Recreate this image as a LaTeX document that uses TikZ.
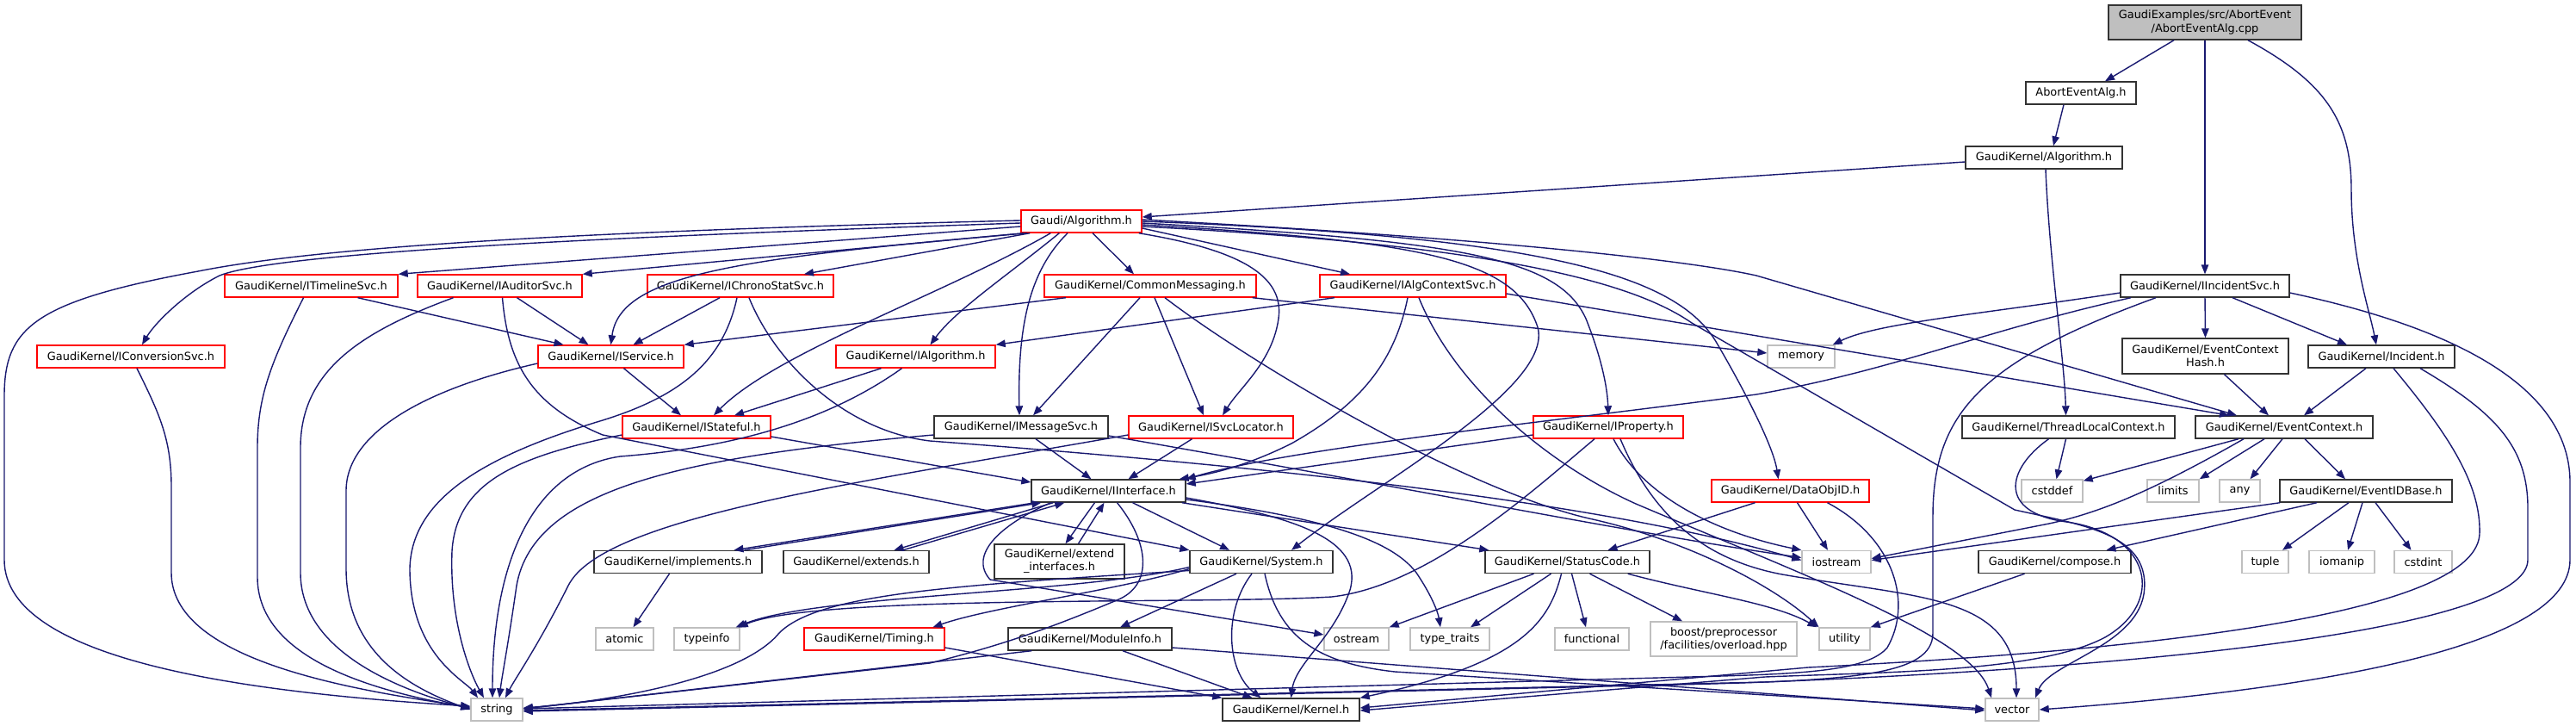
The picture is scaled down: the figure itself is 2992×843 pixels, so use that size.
\documentclass[tikz,border=0pt]{standalone}
\usepackage{fontspec}
\setmainfont{DejaVu Sans}
\usetikzlibrary{arrows.meta}
\definecolor{edgec}{HTML}{191970}
\definecolor{grey75}{HTML}{BFBFBF}
\definecolor{nodeblk}{HTML}{333333}
\begin{document}
\begin{tikzpicture}[x=1pt,y=-1pt,
  nb/.style={draw=nodeblk, line width=1.4pt, inner sep=0pt, minimum height=26pt, font=\fontsize{12.9}{15}\selectfont, align=center},
  nr/.style={nb, draw=red},
  ng/.style={nb, draw=grey75},
  e/.style={draw=edgec, line width=1.4pt, -{Triangle[length=11pt,width=8.5pt]}},
]
\useasboundingbox (0,0) rectangle (2992,843);
\fill[white] (0,0) rectangle (2992,843);
% ---------- nodes ----------
\node[nb, fill=grey75, minimum width=224pt, minimum height=40pt, font=\fontsize{12.9}{16}\selectfont] (cpp) at (2561,26) {GaudiExamples/src/AbortEvent\\/AbortEventAlg.cpp};
\node[nb, minimum width=128pt] (aeh) at (2417,108) {AbortEventAlg.h};
\node[nb, minimum width=182pt] (gkalg) at (2374,183) {GaudiKernel/Algorithm.h};
\node[nr, minimum width=140pt] (galg) at (1256,257) {Gaudi/Algorithm.h};
\node[nr, minimum width=201pt] (timeline) at (361.5,332) {GaudiKernel/ITimelineSvc.h};
\node[nr, minimum width=191pt] (auditor) at (580.5,332) {GaudiKernel/IAuditorSvc.h};
\node[nr, minimum width=216pt] (chrono) at (860,332) {GaudiKernel/IChronoStatSvc.h};
\node[nr, minimum width=246pt] (commsg) at (1336,332) {GaudiKernel/CommonMessaging.h};
\node[nr, minimum width=216pt] (algctx) at (1641,332) {GaudiKernel/IAlgContextSvc.h};
\node[nb, minimum width=196pt] (incsvc) at (2561,332) {GaudiKernel/IIncidentSvc.h};
\node[nr, minimum width=218pt] (conv) at (152,414) {GaudiKernel/IConversionSvc.h};
\node[nr, minimum width=169pt] (iservice) at (709.5,414) {GaudiKernel/IService.h};
\node[nr, minimum width=185pt] (ialg) at (1063.5,414) {GaudiKernel/IAlgorithm.h};
\node[ng, minimum width=78pt] (memory) at (2092,414) {memory};
\node[nb, minimum width=193pt, minimum height=41pt] (echash) at (2561.5,413.5) {GaudiKernel/EventContext\\Hash.h};
\node[nb, minimum width=170pt] (incident) at (2766,414) {GaudiKernel/Incident.h};
\node[nr, minimum width=172pt] (istateful) at (809,496) {GaudiKernel/IStateful.h};
\node[nb, minimum width=202pt] (imsg) at (1186,496) {GaudiKernel/IMessageSvc.h};
\node[nr, minimum width=191pt] (isvcloc) at (1406.5,496) {GaudiKernel/ISvcLocator.h};
\node[nr, minimum width=174pt] (iprop) at (1868,496) {GaudiKernel/IProperty.h};
\node[nb, minimum width=247pt] (tlc) at (2402.5,496) {GaudiKernel/ThreadLocalContext.h};
\node[nb, minimum width=206pt] (evctx) at (2653,496) {GaudiKernel/EventContext.h};
\node[nb, minimum width=179pt] (iinterface) at (1287.5,570) {GaudiKernel/IInterface.h};
\node[nr, minimum width=183pt] (dataobjid) at (2079.5,570) {GaudiKernel/DataObjID.h};
\node[ng, minimum width=71pt] (cstddef) at (2383.5,570) {cstddef};
\node[ng, minimum width=60pt] (limits) at (2524,570) {limits};
\node[ng, minimum width=47pt] (any) at (2601.5,570) {any};
\node[nb, minimum width=200pt] (evidbase) at (2748,570) {GaudiKernel/EventIDBase.h};
\node[nb, minimum width=195pt] (implements) at (787.5,652.5) {GaudiKernel/implements.h};
\node[nb, minimum width=169pt] (extends) at (994.5,652.5) {GaudiKernel/extends.h};
\node[nb, minimum width=151pt, minimum height=40pt] (extif) at (1230.5,652) {GaudiKernel/extend\\\_interfaces.h};
\node[nb, minimum width=166pt] (system) at (1465,652.5) {GaudiKernel/System.h};
\node[nb, minimum width=191pt] (statuscode) at (1820.5,652.5) {GaudiKernel/StatusCode.h};
\node[ng, minimum width=80pt] (iostream) at (2133,652.5) {iostream};
\node[nb, minimum width=177pt] (compose) at (2386.5,652.5) {GaudiKernel/compose.h};
\node[ng, minimum width=54pt] (tuple) at (2631,652.5) {tuple};
\node[ng, minimum width=76pt] (iomanip) at (2720,652.5) {iomanip};
\node[ng, minimum width=67pt] (cstdint) at (2814.5,652.5) {cstdint};
\node[ng, minimum width=67pt] (atomic) at (725.5,742) {atomic};
\node[ng, minimum width=76pt] (typeinfo) at (821,742) {typeinfo};
\node[nr, minimum width=163pt] (timing) at (1015.5,742) {GaudiKernel/Timing.h};
\node[nb, minimum width=190pt] (moduleinfo) at (1266,742) {GaudiKernel/ModuleInfo.h};
\node[ng, minimum width=75pt] (ostream) at (1575.5,742) {ostream};
\node[ng, minimum width=92pt] (typetraits) at (1684,742) {type\_traits};
\node[ng, minimum width=86pt] (functional) at (1849,742) {functional};
\node[ng, minimum width=170pt, minimum height=40pt] (boost) at (2002,742) {boost/preprocessor\\/facilities/overload.hpp};
\node[ng, minimum width=59pt] (utility) at (2142.5,742) {utility};
\node[ng, minimum width=60pt] (string) at (577,824) {string};
\node[nb, minimum width=159pt] (kernel) at (1499.5,824) {GaudiKernel/Kernel.h};
\node[ng, minimum width=62pt] (vector) at (2337,824) {vector};
% ---------- edges ----------
\draw[e] ([xshift=-36pt]cpp.south) -- ([xshift=28pt]aeh.north);
\draw[e] (cpp.south) -- (incsvc.north);
\draw[e] ([xshift=50pt]cpp.south) .. controls (2700,95) and (2731,140) .. (2731,220) .. controls (2731,300) and (2752,360) .. ([xshift=-6pt]incident.north);
\draw[e] ([xshift=-20pt]aeh.south) -- ([xshift=11pt]gkalg.north);
\draw[e] ([yshift=-5pt]gkalg.west) -- ([yshift=5pt]galg.east);
\draw[e] ([xshift=2pt]gkalg.south) .. controls (2380,300) and (2398,420) .. ([xshift=-3pt]tlc.north);
% Gaudi/Algorithm.h
\draw[e] ([yshift=1pt]galg.west) .. controls (700,268) and (380,285) .. (230,315) .. controls (40,350) and (5,380) .. (5,460) -- (5,650) .. controls (5,770) and (300,805) .. ([yshift=4pt]string.west);
\draw[e] ([yshift=-2pt]galg.west) .. controls (800,272) and (330,290) .. (255,320) .. controls (215,340) and (180,375) .. ([xshift=13pt]conv.north);
\draw[e] ([yshift=-6pt]galg.west) -- (timeline.north east);
\draw[e] ([xshift=4pt]galg.south west) -- (auditor.north east);
\draw[e] ([xshift=8pt]galg.south west) .. controls (850,300) and (720,320) .. (iservice.north);
\draw[e] ([xshift=11pt]galg.south west) -- ([xshift=74pt]chrono.north);
\draw[e] ([xshift=35pt]galg.south west) .. controls (1100,340) and (900,410) .. ([xshift=20pt]istateful.north);
\draw[e] ([xshift=45pt]galg.south west) .. controls (1170,320) and (1110,360) .. ([xshift=17pt]ialg.north);
\draw[e] ([xshift=-16pt]galg.south) .. controls (1195,315) and (1182,380) .. ([xshift=-2pt]imsg.north);
\draw[e] ([xshift=13pt]galg.south) -- ([xshift=-19pt]commsg.north);
\draw[e] ([xshift=-4pt]galg.south east) .. controls (1440,290) and (1492,320) .. (1485,370) .. controls (1478,420) and (1440,450) .. ([xshift=13.5pt]isvcloc.north);
\draw[e] ([yshift=-8pt]galg.east) -- ([xshift=-73pt]algctx.north);
\draw[e] ([yshift=-4pt]galg.east) .. controls (1650,280) and (1760,300) .. (1786,380) .. controls (1805,450) and (1600,560) .. ([xshift=35pt]system.north);
\draw[e] ([yshift=-2pt]galg.east) .. controls (1700,280) and (1810,300) .. (1842,370) .. controls (1860,415) and (1867,450) .. (iprop.north);
\draw[e] (galg.east) .. controls (1800,275) and (1950,320) .. (1995,400) .. controls (2030,460) and (2060,520) .. ([xshift=-14pt]dataobjid.north);
\draw[e] ([yshift=2pt]galg.east) .. controls (1700,275) and (1950,300) .. (2040,320) -- ([xshift=-55pt]evctx.north);
\draw[e] ([yshift=-6pt]galg.east) .. controls (1750,285) and (1900,330) .. (1965,375) -- (2340,592) .. controls (2420,610) and (2500,620) .. (2490,690) .. controls (2480,750) and (2380,770) .. ([xshift=27pt]vector.north);
% second row
\draw[e] ([xshift=54pt]timeline.south) -- ([xshift=-55pt]iservice.north);
\draw[e] ([xshift=-9pt]timeline.south) .. controls (315,420) and (299,460) .. (299,520) -- (299,670) .. controls (299,760) and (420,800) .. ([yshift=2pt]string.west);
\draw[e] ([xshift=7pt]conv.south) .. controls (185,480) and (199,510) .. (199,565) -- (199,665) .. controls (199,765) and (400,800) .. ([yshift=3pt]string.west);
\draw[e] ([xshift=20pt]auditor.south) -- ([xshift=-26pt]iservice.north);
\draw[e] ([xshift=-54pt]auditor.south) .. controls (420,385) and (349,430) .. (349,520) -- (349,665) .. controls (349,755) and (460,800) .. ([yshift=1pt]string.west);
\draw[e] ([xshift=3pt]auditor.south) .. controls (590,420) and (615,470) .. (700,505) -- (system.north west);
\draw[e] ([xshift=-24pt]chrono.south) -- ([xshift=26pt]iservice.north);
\draw[e] ([xshift=-4pt]chrono.south) .. controls (840,420) and (790,460) .. (700,488) .. controls (560,530) and (478,580) .. (476,660) .. controls (476,760) and (540,790) .. ([xshift=-22pt]string.north);
\draw[e] ([xshift=10pt]chrono.south) .. controls (900,420) and (980,500) .. (1080,512) .. controls (1450,540) and (1850,580) .. ([yshift=2pt]iostream.west);
\draw[e] ([xshift=-98pt]commsg.south) -- (iservice.north east);
\draw[e] ([xshift=-12pt]commsg.south) -- ([xshift=14pt]imsg.north);
\draw[e] ([xshift=5pt]commsg.south) -- ([xshift=-8.5pt]isvcloc.north);
\draw[e] ([xshift=17pt]commsg.south) .. controls (1450,420) and (1700,570) .. (1850,603) .. controls (1960,628) and (2060,680) .. ([xshift=-30pt]utility.north);
\draw[e] ([xshift=-5pt]commsg.south east) -- ([yshift=4pt]memory.west);
\draw[e] ([xshift=-91pt]algctx.south) -- (ialg.north east);
\draw[e] ([xshift=-6pt]algctx.south) .. controls (1620,420) and (1580,470) .. (1500,515) .. controls (1450,540) and (1410,550) .. ([xshift=-8pt]iinterface.north east);
\draw[e] ([xshift=7pt]algctx.south) .. controls (1690,450) and (1800,540) .. (1900,585) .. controls (2100,670) and (2290,740) .. ([xshift=-24pt]vector.north);
\draw[e] ([yshift=-9pt]algctx.east) -- ([xshift=-64pt]evctx.north);
\draw[e] ([yshift=-8pt]incsvc.west) .. controls (2300,365) and (2180,375) .. ([xshift=-3pt]memory.north east);
\draw[e] ([xshift=-86pt]incsvc.south) .. controls (2300,385) and (2200,430) .. (2040,458) .. controls (1800,490) and (1500,520) .. (iinterface.north east);
\draw[e] ([xshift=-57pt]incsvc.south) .. controls (2300,420) and (2245,480) .. (2245,600) -- (2245,735) .. controls (2245,785) and (2150,790) .. (1950,795) -- ([yshift=-2pt]string.east);
\draw[e] (incsvc.south) -- (echash.north);
\draw[e] ([xshift=32pt]incsvc.south) -- ([xshift=-40pt]incident.north);
\draw[e] ([yshift=-8pt]incsvc.east) .. controls (2800,370) and (2985,430) .. (2985,560) -- (2985,650) .. controls (2985,750) and (2700,800) .. (vector.east);
\draw[e] ([xshift=22pt]echash.south) -- ([xshift=-18pt]evctx.north);
\draw[e] ([xshift=-18pt]incident.south) -- ([xshift=23pt]evctx.north);
\draw[e] ([xshift=14pt]incident.south) .. controls (2840,500) and (2882,560) .. (2880,620) .. controls (2876,700) and (2600,750) .. (2100,775) -- ([yshift=2pt]kernel.east);
\draw[e] ([xshift=45pt]incident.south) .. controls (2900,480) and (2936,520) .. (2936,590) -- (2936,650) .. controls (2936,720) and (2600,770) .. (2050,792) -- ([yshift=-1pt]string.east);
% third row
\draw[e] ([xshift=-3pt]tlc.south) -- ([xshift=5pt]cstddef.north);
\draw[e] ([xshift=-23pt]tlc.south) .. controls (2330,545) and (2320,595) .. (2400,606) .. controls (2500,620) and (2515,700) .. (2445,740) .. controls (2370,780) and (2200,780) .. (2050,786) -- ([yshift=-1pt]kernel.east);
\draw[e] ([xshift=-53pt]evctx.south) -- ([yshift=-2pt]cstddef.north east);
\draw[e] ([xshift=-47pt]evctx.south) .. controls (2500,570) and (2440,595) .. (2380,608) -- ([yshift=4pt]iostream.east);
\draw[e] ([xshift=-23pt]evctx.south) -- (limits.north east);
\draw[e] ([xshift=-2pt]evctx.south) -- ([xshift=12pt]any.north);
\draw[e] ([xshift=24pt]evctx.south) -- ([xshift=-24pt]evidbase.north);
\draw[e] ([xshift=1pt]evidbase.south west) -- ([yshift=2pt]iostream.east);
\draw[e] ([xshift=-57pt]evidbase.south) -- ([xshift=60pt]compose.north);
\draw[e] ([xshift=-20pt]evidbase.south) -- ([xshift=20pt]tuple.north);
\draw[e] ([xshift=-4pt]evidbase.south) -- ([xshift=7pt]iomanip.north);
\draw[e] ([xshift=11pt]evidbase.south) -- ([xshift=-14pt]cstdint.north);
\draw[e] ([xshift=-35pt]compose.south) -- (utility.north east);
\draw[e] ([xshift=-41pt]dataobjid.south) -- ([xshift=47pt]statuscode.north);
\draw[e] ([xshift=8pt]dataobjid.south) -- ([xshift=-10pt]iostream.north);
\draw[e] ([xshift=43pt]dataobjid.south) .. controls (2200,625) and (2222,700) .. (2192,752) .. controls (2170,778) and (2100,782) .. (2000,785) -- ([yshift=1pt]string.east);
\draw[e] ([yshift=-9pt]iprop.west) -- ([yshift=8pt]iinterface.east);
\draw[e] ([xshift=-16pt]iprop.south) .. controls (1780,570) and (1660,680) .. (1547,693) .. controls (1400,702) and (950,690) .. ([xshift=-2pt]typeinfo.north east);
\draw[e] ([xshift=6pt]iprop.south) .. controls (1910,580) and (2000,620) .. (iostream.north west);
\draw[e] ([xshift=14pt]iprop.south) .. controls (1920,600) and (1980,650) .. (2070,667) .. controls (2230,695) and (2342,690) .. ([xshift=5pt]vector.north);
\draw[e] ([xshift=17pt]imsg.south) -- ([xshift=-20pt]iinterface.north);
\draw[e] ([yshift=-9pt]imsg.west) .. controls (800,530) and (620,565) .. (600,680) .. controls (590,750) and (583,785) .. ([xshift=3pt]string.north);
\draw[e] ([yshift=-10pt]imsg.east) .. controls (1600,560) and (1900,620) .. ([yshift=5pt]iostream.west);
\draw[e] ([xshift=-22pt]isvcloc.south) -- ([xshift=23pt]iinterface.north);
\draw[e] ([yshift=-9pt]isvcloc.west) .. controls (1000,560) and (700,600) .. (660,680) .. controls (625,750) and (597,790) .. ([xshift=10pt]string.north);
\draw[e] ([xshift=-40pt]ialg.south) -- ([xshift=44pt]istateful.north);
\draw[e] ([xshift=-16pt]ialg.south) .. controls (960,490) and (850,520) .. (720,530) .. controls (620,545) and (572,650) .. ([xshift=-5pt]string.north);
\draw[e] ([xshift=15pt]iservice.south) -- ([xshift=-18pt]istateful.north);
\draw[e] ([yshift=-8pt]iservice.west) .. controls (500,450) and (402,500) .. (402,570) -- (402,660) .. controls (402,760) and (480,800) .. (string.west);
\draw[e] ([yshift=-11pt]istateful.east) -- ([yshift=10pt]iinterface.west);
\draw[e] ([yshift=-9pt]istateful.west) .. controls (600,530) and (530,560) .. (525,640) .. controls (522,720) and (545,780) .. ([xshift=-15pt]string.north);
% IInterface
\draw[e] ([xshift=5pt]iinterface.south west) -- ([xshift=65pt]implements.north);
\draw[e] ([xshift=77pt]implements.north) -- ([xshift=12pt]iinterface.south west);
\draw[e] ([xshift=26pt]iinterface.south west) -- ([xshift=44pt]extends.north);
\draw[e] ([xshift=54pt]extends.north) -- ([xshift=39pt]iinterface.south west);
\draw[e] ([xshift=-16pt]iinterface.south) -- ([xshift=7pt]extif.north);
\draw[e] ([xshift=22pt]extif.north) -- ([xshift=-5pt]iinterface.south);
\draw[e] ([xshift=28pt]iinterface.south) -- ([xshift=-37pt]system.north);
\draw[e] ([xshift=-5pt]iinterface.south east) -- ([xshift=5pt]statuscode.north west);
\draw[e] ([yshift=-8pt]iinterface.east) .. controls (1500,600) and (1585,625) .. (1568,685) .. controls (1550,740) and (1505,770) .. (kernel.north);
\draw[e] ([yshift=-10pt]iinterface.east) .. controls (1530,600) and (1615,625) .. (1645,665) .. controls (1662,690) and (1670,710) .. ([xshift=-11pt]typetraits.north);
\draw[e] ([xshift=-67pt]iinterface.south) .. controls (1160,610) and (1125,645) .. (1150,673) -- ([yshift=5pt]ostream.west);
\draw[e] ([xshift=10pt]iinterface.south) .. controls (1335,630) and (1340,680) .. (1297,697) .. controls (1230,725) and (1170,748) .. (1080,770) -- ([yshift=1pt]string.east);
% System
\draw[e] ([xshift=-11pt]system.south) .. controls (1420,710) and (1425,780) .. ([xshift=-35pt]kernel.north);
\draw[e] ([xshift=-29pt]system.south) -- ([xshift=35pt]moduleinfo.north);
\draw[e] ([xshift=4pt]system.south) .. controls (1485,740) and (1530,770) .. (1620,780) -- ([yshift=1pt]vector.west);
\draw[e] ([yshift=-6pt]system.west) .. controls (1250,690) and (950,690) .. ([xshift=-5pt]typeinfo.north east);
\draw[e] ([yshift=-8pt]system.west) .. controls (1300,685) and (1150,705) .. ([xshift=68pt]timing.north);
\draw[e] ([yshift=-10pt]system.west) .. controls (1100,680) and (950,690) .. (905,735) .. controls (860,790) and (700,815) .. ([yshift=2pt]string.east);
\draw[e] ([xshift=28pt]moduleinfo.south west) -- ([yshift=1pt]string.east);
\draw[e] ([xshift=38pt]moduleinfo.south) -- ([xshift=-45pt]kernel.north);
\draw[e] ([yshift=-10pt]moduleinfo.east) -- ([yshift=-1pt]vector.west);
\draw[e] ([yshift=-10pt]timing.east) -- (kernel.north west);
\draw[e] ([xshift=-10pt]implements.south) -- ([xshift=10pt]atomic.north);
% StatusCode
\draw[e] ([xshift=-39pt]statuscode.south) -- (ostream.north east);
\draw[e] ([xshift=-19pt]statuscode.south) -- ([xshift=24pt]typetraits.north);
\draw[e] ([xshift=-7pt]statuscode.south) .. controls (1800,720) and (1770,770) .. (kernel.north east);
\draw[e] ([xshift=5pt]statuscode.south) -- ([xshift=-7pt]functional.north);
\draw[e] ([xshift=26pt]statuscode.south) -- ([xshift=-48pt]boost.north);
\draw[e] ([xshift=-26pt]statuscode.south east) .. controls (1980,690) and (2060,700) .. ([xshift=-32pt]utility.north);
\end{tikzpicture}
\end{document}
